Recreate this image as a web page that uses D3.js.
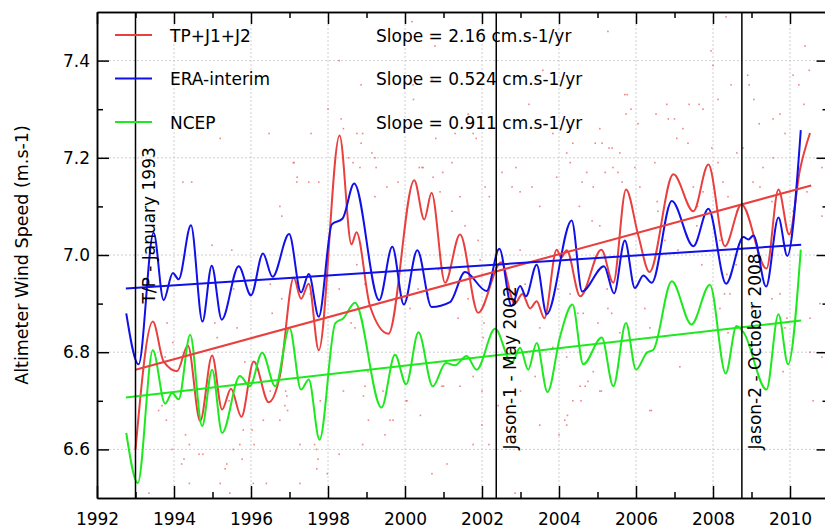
<!doctype html>
<html>
<head>
<script src="https://d3js.org/d3.v7.min.js"></script>
<style>
    body { margin: 0; background: #fff; }
    svg text { font-family: "DejaVu Sans", sans-serif; fill: #000; }
    .grid line { stroke: #c4c4c4; stroke-width: 0.8; stroke-dasharray: 2,2; }
    .axis path, .axis line { stroke: #000; stroke-width: 1.5; }
    .axis text { font-size: 17px; }
</style>
</head>
<body>
<script>
    // smoothed series: [decimal year, wind speed m/s]
    let tpj = [
        [1993.00, 6.600], [1993.45, 6.863], [1993.73, 6.781], [1994.08, 6.761], [1994.36, 6.814],
        [1994.68, 6.658], [1994.99, 6.793], [1995.25, 6.682], [1995.48, 6.725], [1995.75, 6.667],
        [1996.07, 6.781], [1996.46, 6.697], [1996.75, 6.751], [1997.11, 6.953], [1997.30, 6.910],
        [1997.50, 6.941], [1997.76, 6.804], [1998.30, 7.246], [1998.61, 7.022], [1998.74, 7.047],
        [1999.09, 6.895], [1999.57, 6.838], [2000.24, 7.154], [2000.50, 7.073], [2000.69, 7.128],
        [2001.04, 6.943], [2001.43, 7.042], [2001.90, 6.881], [2002.50, 6.985], [2002.85, 6.900],
        [2003.05, 6.920], [2003.25, 6.890], [2003.42, 6.905], [2003.62, 6.870], [2003.94, 7.011],
        [2004.06, 6.995], [2004.20, 7.010], [2004.55, 6.915], [2005.10, 7.011], [2005.41, 6.943],
        [2005.74, 7.135], [2006.06, 7.040], [2006.35, 6.965], [2006.97, 7.166], [2007.49, 7.090],
        [2007.88, 7.186], [2008.31, 7.018], [2008.74, 7.104], [2009.39, 6.972], [2009.70, 7.135],
        [2009.98, 7.042], [2010.26, 7.176], [2010.52, 7.251]
    ];
    let era = [
        [1992.76, 6.880], [1993.08, 6.775], [1993.47, 7.046], [1993.73, 6.907], [1993.97, 6.963],
        [1994.12, 6.950], [1994.44, 7.061], [1994.74, 6.863], [1994.98, 6.978], [1995.24, 6.867],
        [1995.68, 6.977], [1996.00, 6.917], [1996.31, 7.003], [1996.56, 6.955], [1996.99, 7.043],
        [1997.30, 6.923], [1997.50, 6.961], [1997.76, 6.873], [1998.10, 7.063], [1998.38, 7.075],
        [1998.68, 7.147], [1999.33, 6.907], [1999.67, 7.017], [1999.97, 6.898], [2000.32, 7.010],
        [2000.69, 6.893], [2001.17, 6.903], [2001.56, 6.965], [2002.12, 6.926], [2002.45, 7.013],
        [2002.77, 6.895], [2002.99, 6.936], [2003.14, 6.915], [2003.42, 6.980], [2003.68, 6.878],
        [2004.33, 7.071], [2004.60, 6.925], [2005.17, 6.977], [2005.43, 6.921], [2005.71, 7.030],
        [2005.97, 6.932], [2006.19, 6.958], [2006.41, 6.943], [2006.93, 7.111], [2007.49, 7.018],
        [2007.88, 7.095], [2008.34, 6.941], [2008.79, 7.037], [2008.92, 7.032], [2009.05, 7.040],
        [2009.38, 6.935], [2009.70, 7.077], [2009.93, 6.998], [2010.28, 7.257]
    ];
    let ncep = [
        [1992.76, 6.634], [1993.06, 6.531], [1993.45, 6.804], [1993.77, 6.694], [1993.95, 6.716],
        [1994.12, 6.703], [1994.42, 6.836], [1994.73, 6.648], [1994.99, 6.764], [1995.25, 6.634],
        [1995.71, 6.751], [1995.97, 6.730], [1996.29, 6.799], [1996.63, 6.730], [1997.00, 6.850],
        [1997.30, 6.723], [1997.50, 6.744], [1997.78, 6.620], [1998.19, 6.860], [1998.40, 6.870],
        [1998.70, 6.902], [1999.39, 6.686], [1999.74, 6.795], [2000.03, 6.734], [2000.35, 6.841],
        [2000.72, 6.730], [2001.06, 6.778], [2001.30, 6.773], [2001.60, 6.792], [2001.86, 6.764],
        [2002.34, 6.848], [2002.77, 6.778], [2002.99, 6.809], [2003.20, 6.764], [2003.42, 6.819],
        [2003.70, 6.718], [2004.03, 6.833], [2004.35, 6.898], [2004.63, 6.775], [2005.11, 6.830],
        [2005.41, 6.730], [2005.74, 6.860], [2006.00, 6.764], [2006.28, 6.799], [2006.45, 6.805],
        [2006.93, 6.946], [2007.44, 6.857], [2007.92, 6.939], [2008.33, 6.756], [2008.61, 6.854],
        [2008.80, 6.840], [2009.39, 6.723], [2009.70, 6.878], [2009.95, 6.775], [2010.28, 7.011]
    ];

    // linear fits (end points)
    let tpjFit = [[1993.00, 6.764], [2010.55, 7.143]];
    let eraFit = [[1992.75, 6.931], [2010.29, 7.021]];
    let ncepFit = [[1992.75, 6.707], [2010.29, 6.865]];

    // raw altimeter samples (the faint red dots)
    let samples = [
        [1994.86,7.27],[1995.20,7.24],[1996.47,7.25],[1997.10,7.19],[1994.23,7.15],[1994.46,7.15],[1997.20,7.16],
        [1993.97,6.82],[1993.80,6.66],[1994.30,6.63],[1994.40,6.61],[1994.20,6.57],[1994.40,6.53],[1993.35,6.51],
        [1994.75,6.59],[1995.37,6.57],[1995.20,6.53],[1995.54,6.60],[1995.80,6.64],[1996.06,6.53],[1996.32,6.66],
        [1996.93,6.71],[1996.88,6.69],[1995.45,6.51],[1995.71,6.61],[1996.40,6.53],
        [1996.95,6.68],[1997.80,6.70],[1997.74,6.58],[1997.70,6.60],[1997.27,6.53],[1998.40,6.72],[1998.90,6.61],
        [1998.92,6.71],[1999.05,6.66],[1999.48,6.63],[1999.69,6.66],[2000.03,6.70],[2001.00,6.73],[2002.00,6.72],
        [2002.18,6.61],[2002.42,6.69],[2002.86,6.51],[2003.00,6.72],[2003.50,6.65],[2004.15,6.66],
        [2004.55,6.73],[2004.68,6.73],[2005.10,6.72],[2004.20,6.65],[2004.00,6.63],[2006.40,6.68],
        [2008.34,7.49],[2005.27,7.46],[2007.95,7.42],[2008.00,7.39],[2005.71,7.33],[2005.77,7.33],[2005.87,7.30],
        [2005.74,7.29],[2006.80,7.31],[2006.84,7.28],[2007.00,7.28],[2007.38,7.31],[2007.64,7.31],[2007.74,7.30],
        [2008.13,7.32],[2008.47,7.35],[2008.94,7.35],[2009.06,7.32],[2010.39,7.43],[2010.50,7.38],[2010.36,7.31],
        [2010.23,7.35],[2010.08,7.37],[2009.20,7.27],[2009.56,7.28],[2009.74,7.29],[2009.87,7.25],[2005.06,7.26],
        [2005.12,7.23],[2005.30,7.22],[2005.58,7.21],[2004.36,7.23],[2004.20,7.21],[2004.60,7.15],[2005.20,7.17],
        [2005.53,7.17],[2006.05,7.27],[2006.52,7.29],[2007.22,7.26],[2007.06,7.24],[2007.35,7.23],[2007.97,7.22],
        [2008.13,7.19],[2008.62,7.21],[2008.78,7.22],[2008.90,7.37],[2009.30,7.18],[2009.56,7.20],
        [2000.18,7.48],[2000.78,7.43],[1998.29,7.40],[1998.86,7.35],[2000.21,7.35],[2000.22,7.32],[1998.00,7.30],
        [1998.34,7.28],[1998.40,7.26],[1997.56,7.25],[1998.75,7.25],[1998.90,7.25],[1998.86,7.23],[1998.53,7.20],
        [1997.12,7.19],[1997.19,7.15],[1997.50,7.15],[1997.76,7.15],[1999.14,7.21],[1999.25,7.18],[1999.82,7.15],
        [2000.37,7.18],[2000.47,7.18],[2000.80,7.24],[2000.98,7.17],[2001.30,7.25],[2001.77,7.25],[2001.64,7.29],
        [2000.70,7.36],[2001.85,7.24],[2002.08,7.14],[2002.19,7.12],[2002.52,7.17],[2002.88,7.18],[2002.99,7.13],
        [2003.84,7.25],[2001.60,7.28],[2003.22,7.31],[2003.58,7.38],
        [1996.80,7.08],[1996.75,7.10],[1994.99,7.02],[1995.50,7.01],[1995.55,6.93],[1996.55,6.88],[1995.06,6.86],
        [1995.12,6.83],[1995.64,6.85],[1993.82,6.86],[1993.95,6.60],[1994.26,6.58],[1993.69,6.69],[1993.60,6.68],
        [1994.65,6.59],[1995.33,6.56],[1995.43,6.70],[1995.77,6.58],[1996.03,6.64],[1996.08,6.61],[1995.84,6.78],
        [1996.50,6.72],[1996.90,6.72],[1996.75,6.66],[1997.27,6.61],[1997.65,6.61],[1997.71,6.56],[1996.80,6.91],
        [1997.54,6.92],[1998.29,6.93],[1998.29,6.59],[1997.98,6.55],[1996.50,6.94],[1993.77,6.79],
        [1998.83,7.18],[1998.65,7.19],[1999.22,7.20],[1999.22,7.12],[1999.53,7.14],[2000.44,7.18],[2000.73,7.16],
        [2000.91,7.13],[2001.22,7.19],[2001.22,7.09],[2001.43,7.12],[2001.56,7.06],[2001.90,7.03],[2001.95,6.99],
        [2002.05,6.86],[2002.78,7.14],[2003.30,7.14],[2003.50,7.10],[2003.94,7.16],[2004.29,7.19],[2004.53,7.10],
        [2002.99,7.01],[2003.12,6.94],[2003.17,6.80],[2003.50,6.85],[2003.38,6.75],[2003.84,6.81],[2004.20,6.79],
        [2004.57,6.70],[2004.36,6.70],[2004.22,6.67],[1998.75,6.98],[1998.96,6.94],[1998.70,6.85],
        [1998.60,6.86],[1999.04,6.76],[1998.96,6.73],[1999.43,6.72],[2000.05,6.70],[2000.40,6.67],[2000.96,6.73],
        [2001.43,6.73],[2001.77,6.75],[2002.00,6.65],[2001.77,6.61],[2001.09,6.57],[2000.70,6.55],[1999.61,6.66],
        [2000.13,6.89],[2000.34,6.93],[2000.60,6.92],[2000.87,6.97],[2001.13,6.97],[2001.38,6.87],[2001.64,6.91],
        [2002.03,6.83],[2003.97,6.93],[2004.29,6.92],[2004.49,6.88],[2004.68,6.93],
        [2004.94,7.23],[2005.38,7.22],[2005.40,7.18],[2004.72,7.17],[2004.89,7.14],[2005.64,7.15],[2005.97,7.18],
        [2006.10,7.14],[2006.49,7.19],[2006.55,7.11],[2006.57,7.09],[2007.23,7.13],[2007.49,7.14],[2007.60,7.10],
        [2007.74,7.13],[2008.26,7.15],[2008.39,7.12],[2008.62,7.09],[2009.04,7.15],[2009.22,7.14],[2009.53,7.11],
        [2009.92,7.13],[2010.08,7.09],[2010.44,7.13],[2010.83,7.18],[2010.83,7.08],[2004.86,7.07],[2005.06,7.06],
        [2005.25,6.93],[2004.63,6.88],[2005.01,6.86],[2005.27,6.89],[2005.37,6.88],[2005.58,6.84],[2006.23,6.89],
        [2006.36,6.85],[2006.75,7.03],[2007.09,7.01],[2007.32,7.04],[2007.58,7.06],[2007.71,6.98],[2008.18,7.03],
        [2008.36,6.96],[2008.44,6.92],[2008.60,6.98],[2009.01,6.89],[2009.22,6.85],[2009.53,6.91],[2009.74,6.92],
        [2009.87,6.85],[2010.13,6.86],[2010.52,6.87],[2010.78,6.90],[2004.89,6.76],[2004.75,6.74],[2005.06,6.72],
        [2006.36,6.68],[2007.14,6.77],[2008.18,6.89],[2008.30,6.92],[2008.39,6.84],[2009.82,6.76],[2009.92,6.87],
        [2010.08,6.82],[2010.52,6.80],[2010.60,6.70],[2010.83,6.79]
    ];

    let seriesNames = ["TP+J1+J2", "ERA-interim", "NCEP"];
    let slopes = ["2.16", "0.524", "0.911"];
    let colors = ["#e8403f", "#1010e8", "#1ee81e"];

    let missionYears = [1993.0, 2002.37, 2008.75];
    let missionLabels = ["T/P - January 1993", "Jason-1 - May 2002", "Jason-2 - October 2008"];
    let missionLabelAt = [6.9, 6.6, 6.6];

    let xMajor = d3.range(1992, 2011, 2);
    let xMinor = d3.range(1993, 2011, 2);
    let yMajor = [6.6, 6.8, 7.0, 7.2, 7.4];
    let yMinor = [6.7, 6.9, 7.1, 7.3];

    let width = 825, height = 529;
    let mLeft = 97, mTop = 12, plotW = 731.5, plotH = 486;

    let x = d3.scaleLinear().domain([1992, 2011]).range([mLeft, mLeft + plotW]);
    let y = d3.scaleLinear().domain([6.5, 7.5]).range([mTop + plotH, mTop]);

    let svg = d3.select("body").append("svg")
        .attr("width", width)
        .attr("height", height);

    svg.append("clipPath").attr("id", "plot")
        .append("rect")
        .attr("x", mLeft).attr("y", mTop)
        .attr("width", plotW).attr("height", plotH);

    // dashed grid at the major ticks
    let grid = svg.append("g").attr("class", "grid");
    grid.selectAll(".gx").data(xMajor.slice(1)).enter().append("line")
        .attr("x1", d => x(d)).attr("x2", d => x(d))
        .attr("y1", mTop).attr("y2", mTop + plotH);
    grid.selectAll(".gy").data(yMajor).enter().append("line")
        .attr("x1", mLeft).attr("x2", mLeft + plotW)
        .attr("y1", d => y(d)).attr("y2", d => y(d));

    let plot = svg.append("g").attr("clip-path", "url(#plot)");

    plot.selectAll(".dot").data(samples).enter().append("rect")
        .attr("x", d => x(d[0]) - 0.8)
        .attr("y", d => y(d[1]) - 0.8)
        .attr("width", 1.6).attr("height", 1.6)
        .attr("fill", "#e8605f")
        .attr("opacity", 0.75);

    let smooth = d3.line()
        .x(d => x(d[0]))
        .y(d => y(d[1]))
        .curve(d3.curveMonotoneX);
    let straight = d3.line()
        .x(d => x(d[0]))
        .y(d => y(d[1]));

    [tpj, era, ncep].forEach((s, i) => {
        plot.append("path")
            .attr("d", smooth(s))
            .attr("fill", "none")
            .attr("stroke", colors[i])
            .attr("stroke-width", 2);
    });
    [tpjFit, eraFit, ncepFit].forEach((s, i) => {
        plot.append("path")
            .attr("d", straight(s))
            .attr("fill", "none")
            .attr("stroke", colors[i])
            .attr("stroke-width", 2);
    });

    // mission change markers
    missionYears.forEach((yr, i) => {
        svg.append("line")
            .attr("x1", x(yr)).attr("x2", x(yr))
            .attr("y1", mTop).attr("y2", mTop + plotH)
            .attr("stroke", "#000").attr("stroke-width", 1.5);
        svg.append("text")
            .attr("transform", "translate(" + (x(yr) + 19.5) + "," + y(missionLabelAt[i]) + ") rotate(-90)")
            .attr("font-size", 17)
            .text(missionLabels[i]);
    });

    // legend
    seriesNames.forEach((name, i) => {
        let ly = 35 + i * 43.5;
        svg.append("line")
            .attr("x1", 115).attr("x2", 152)
            .attr("y1", ly).attr("y2", ly)
            .attr("stroke", colors[i]).attr("stroke-width", 2);
        svg.append("text")
            .attr("x", 170).attr("y", ly + 6.5)
            .attr("font-size", 17)
            .text(name);
        svg.append("text")
            .attr("x", 376).attr("y", ly + 6.5)
            .attr("font-size", 17)
            .text("Slope = " + slopes[i] + " cm.s-1/yr");
    });

    // axes with inward ticks on all four sides
    let addAxis = (axis, tx, ty) => svg.append("g")
        .attr("class", "axis")
        .attr("transform", "translate(" + tx + "," + ty + ")")
        .call(axis);

    addAxis(d3.axisBottom(x).tickValues(xMajor).tickSize(-12).tickSizeOuter(0).tickPadding(15)
        .tickFormat(d3.format("d")), 0, mTop + plotH);
    addAxis(d3.axisBottom(x).tickValues(xMinor).tickSize(-6).tickSizeOuter(0).tickFormat(""), 0, mTop + plotH);
    addAxis(d3.axisTop(x).tickValues(xMajor).tickSize(-12).tickSizeOuter(0).tickFormat(""), 0, mTop);
    addAxis(d3.axisTop(x).tickValues(xMinor).tickSize(-6).tickSizeOuter(0).tickFormat(""), 0, mTop);
    addAxis(d3.axisLeft(y).tickValues(yMajor).tickSize(-12).tickSizeOuter(0).tickPadding(7)
        .tickFormat(d3.format(".1f")), mLeft, 0);
    addAxis(d3.axisLeft(y).tickValues(yMinor).tickSize(-6).tickSizeOuter(0).tickFormat(""), mLeft, 0);
    addAxis(d3.axisRight(y).tickValues(yMajor).tickSize(-12).tickSizeOuter(0).tickFormat(""), mLeft + plotW, 0);
    addAxis(d3.axisRight(y).tickValues(yMinor).tickSize(-6).tickSizeOuter(0).tickFormat(""), mLeft + plotW, 0);

    svg.append("text")
        .attr("transform", "translate(28," + (mTop + plotH / 2) + ") rotate(-90)")
        .attr("text-anchor", "middle")
        .attr("font-size", 17.5)
        .text("Altimeter Wind Speed (m.s-1)");
</script>
</body>
</html>
